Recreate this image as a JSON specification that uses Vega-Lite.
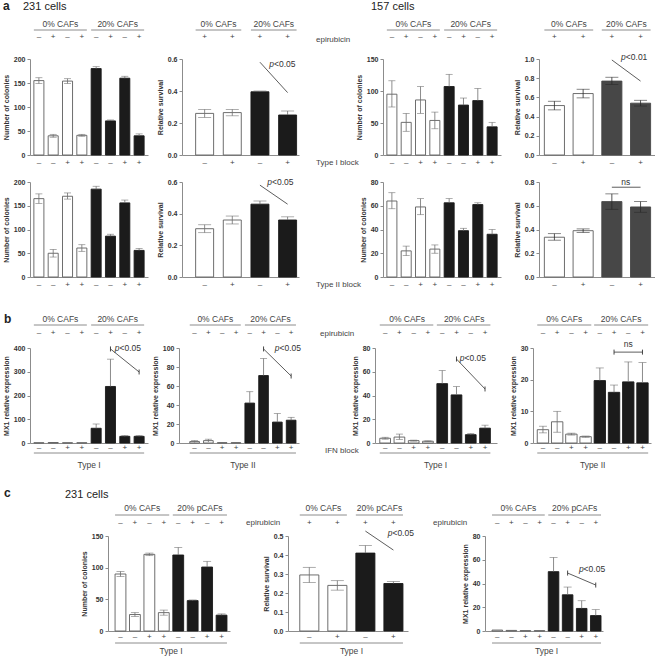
{
"$schema":"https://vega.github.io/schema/vega-lite/v6.json",
"padding":{"left":2,"top":0,"right":0,"bottom":0},
"config":{
"view":{"stroke":null},
"font":"Liberation Sans",
"axis":{"labelFont":"Liberation Sans","titleFont":"Liberation Sans","grid":false,"labelOverlap":false},
"axisY":{"domainColor":"#8c8c8c","domainWidth":1,"tickColor":"#8c8c8c","tickSize":3,"tickWidth":1,"labelFontSize":7,"labelFontWeight":"bold","labelColor":"#333333","labelPadding":2,"labelOverlap":false,"labelBound":false,"labelFlush":false,"titleFontSize":7,"titleFontWeight":"bold","titleColor":"#333333","titlePadding":4},
"axisX":{"domainColor":"#8c8c8c","domainWidth":1,"labels":false,"ticks":false},
"text":{"font":"Liberation Sans","fontSize":8,"color":"#444444","baseline":"middle"},
"tick":{"color":"#6e6e6e","thickness":0.8},
"rule":{"color":"#6e6e6e","strokeWidth":0.8}
},
"spacing":24,
"vconcat":[
{"spacing":11,"vconcat":[
{"spacing":17,"hconcat":[
{"spacing":8,"hconcat":[
{"width":118,"height":96,"data":{"values":[
{"i":"1","t":"–","b":"–","g":"w","v":155,"lo":149,"hi":161},
{"i":"2","t":"+","b":"–","g":"w","v":40,"lo":37,"hi":43},
{"i":"3","t":"–","b":"+","g":"w","v":154,"lo":149,"hi":159},
{"i":"4","t":"+","b":"+","g":"w","v":41,"lo":39,"hi":43},
{"i":"5","t":"–","b":"–","g":"k","v":180,"lo":176,"hi":184},
{"i":"6","t":"+","b":"–","g":"k","v":71,"lo":69,"hi":73},
{"i":"7","t":"–","b":"+","g":"k","v":160,"lo":156,"hi":164},
{"i":"8","t":"+","b":"+","g":"k","v":40,"lo":36,"hi":44}]},
"encoding":{"x":{"field":"i","type":"nominal","title":null,"scale":{"paddingInner":0.3,"paddingOuter":0.27}}},
"layer":[
{"mark":{"type":"bar","strokeWidth":0.9},"encoding":{"y":{"field":"v","type":"quantitative","title":"Number of colonies","scale":{"domain":[0,200],"nice":false},"axis":{"values":[0,50,100,150,200],"labelOverlap":false,"tickCount":20}},"fill":{"field":"g","type":"nominal","scale":{"domain":["w","k","d"],"range":["#ffffff","#1b1b1b","#474747"]},"legend":null},"stroke":{"field":"g","type":"nominal","scale":{"domain":["w","k","d"],"range":["#5e5e5e","#1b1b1b","#474747"]},"legend":null}}},
{"transform":[{"filter":"datum.g=='k'"}],"mark":"rule","encoding":{"y":{"field":"v","type":"quantitative","title":"Number of colonies"},"y2":{"field":"hi"}}},
{"transform":[{"filter":"datum.g=='k'"}],"mark":{"type":"tick","size":7},"encoding":{"y":{"field":"hi","type":"quantitative","title":"Number of colonies"}}},
{"transform":[{"filter":"datum.g!='k'"}],"mark":"rule","encoding":{"y":{"field":"lo","type":"quantitative","title":"Number of colonies"},"y2":{"field":"hi"}}},
{"transform":[{"filter":"datum.g!='k'"}],"mark":{"type":"tick","size":7},"encoding":{"y":{"field":"lo","type":"quantitative","title":"Number of colonies"}}},
{"transform":[{"filter":"datum.g!='k'"}],"mark":{"type":"tick","size":7},"encoding":{"y":{"field":"hi","type":"quantitative","title":"Number of colonies"}}},
{"mark":"text","encoding":{"y":{"value":-22},"text":{"field":"t"}}},
{"mark":"text","encoding":{"y":{"value":104},"text":{"field":"b"}}},
{"data":{"values":[{"a":"1","z":"4","m":"2","s":"0% CAFs"},{"a":"5","z":"8","m":"6","s":"20% CAFs"}]},"layer":[
{"mark":"rule","encoding":{"x":{"field":"a","type":"nominal","bandPosition":0,"title":null},"x2":{"field":"z","bandPosition":1},"y":{"value":-29}}},
{"mark":{"type":"text","fontSize":8.5},"encoding":{"x":{"field":"m","type":"nominal","bandPosition":1.22,"title":null},"y":{"value":-35},"text":{"field":"s"}}}]},
{"data":{"values":[{"s":"a"}]},"mark":{"type":"text","align":"left","fontSize":12,"fontWeight":"bold","color":"#222222"},"encoding":{"x":{"value":-27},"y":{"value":-53},"text":{"field":"s"}}},
{"data":{"values":[{"s":"231 cells"}]},"mark":{"type":"text","align":"left","fontSize":11,"color":"#222222"},"encoding":{"x":{"value":-7},"y":{"value":-52},"text":{"field":"s"}}}
]},
{"width":117,"height":96,"data":{"values":[
{"i":"1","t":"+","b":"–","g":"w","v":0.26,"lo":0.235,"hi":0.285},
{"i":"2","t":"+","b":"+","g":"w","v":0.265,"lo":0.245,"hi":0.285},
{"i":"3","t":"+","b":"–","g":"k","v":0.395,"lo":0.39,"hi":0.4},
{"i":"4","t":"+","b":"+","g":"k","v":0.25,"lo":0.225,"hi":0.275}]},
"encoding":{"x":{"field":"i","type":"nominal","title":null,"scale":{"paddingInner":0.35,"paddingOuter":0.29,"align":0.85}}},
"layer":[
{"mark":{"type":"bar","strokeWidth":0.9},"encoding":{"y":{"field":"v","type":"quantitative","title":"Relative survival","scale":{"domain":[0,0.6],"nice":false},"axis":{"values":[0,0.2,0.4,0.6],"format":".1f","labelOverlap":false,"tickCount":20}},"fill":{"field":"g","type":"nominal","scale":{"domain":["w","k","d"],"range":["#ffffff","#1b1b1b","#474747"]},"legend":null},"stroke":{"field":"g","type":"nominal","scale":{"domain":["w","k","d"],"range":["#5e5e5e","#1b1b1b","#474747"]},"legend":null}}},
{"transform":[{"filter":"datum.g=='k'"}],"mark":"rule","encoding":{"y":{"field":"v","type":"quantitative","title":"Relative survival"},"y2":{"field":"hi"}}},
{"transform":[{"filter":"datum.g=='k'"}],"mark":{"type":"tick","size":13},"encoding":{"y":{"field":"hi","type":"quantitative","title":"Relative survival"}}},
{"transform":[{"filter":"datum.g!='k'"}],"mark":"rule","encoding":{"y":{"field":"lo","type":"quantitative","title":"Relative survival"},"y2":{"field":"hi"}}},
{"transform":[{"filter":"datum.g!='k'"}],"mark":{"type":"tick","size":13},"encoding":{"y":{"field":"lo","type":"quantitative","title":"Relative survival"}}},
{"transform":[{"filter":"datum.g!='k'"}],"mark":{"type":"tick","size":13},"encoding":{"y":{"field":"hi","type":"quantitative","title":"Relative survival"}}},
{"mark":"text","encoding":{"y":{"value":-22},"text":{"field":"t"}}},
{"mark":"text","encoding":{"y":{"value":104},"text":{"field":"b"}}},
{"data":{"values":[{"a":"1","z":"2","m":"1","s":"0% CAFs"},{"a":"3","z":"4","m":"3","s":"20% CAFs"}]},"layer":[
{"mark":"rule","encoding":{"x":{"field":"a","type":"nominal","bandPosition":0,"title":null},"x2":{"field":"z","bandPosition":1},"y":{"value":-29}}},
{"mark":{"type":"text","fontSize":8.5},"encoding":{"x":{"field":"m","type":"nominal","bandPosition":1.27,"title":null},"y":{"value":-35},"text":{"field":"s"}}}]},
{"data":{"values":[{"x1":"3","y1":0.58,"x2":"4","y2":0.39,"tx":"3","ty":0.57}]},"layer":[
{"mark":{"type":"rule","color":"#333333","strokeWidth":0.8},"encoding":{"x":{"field":"x1","type":"nominal","title":null},"x2":{"field":"x2"},"y":{"field":"y1","type":"quantitative","title":"Relative survival"},"y2":{"field":"y2"}}},
{"mark":{"type":"text","text":"p","fontStyle":"italic","align":"right","dx":14,"fontSize":8.5,"color":"#333333"},"encoding":{"x":{"field":"tx","type":"nominal","title":null},"y":{"field":"ty","type":"quantitative","title":"Relative survival"}}},
{"mark":{"type":"text","text":"<0.05","align":"left","dx":14,"fontSize":8.5,"color":"#333333"},"encoding":{"x":{"field":"tx","type":"nominal","title":null},"y":{"field":"ty","type":"quantitative","title":"Relative survival"}}}]}
]}
]},
{"spacing":12,"hconcat":[
{"width":118,"height":96,"data":{"values":[
{"i":"1","t":"–","b":"–","g":"w","v":95,"lo":75,"hi":116},
{"i":"2","t":"+","b":"–","g":"w","v":51,"lo":37,"hi":65},
{"i":"3","t":"–","b":"+","g":"w","v":86,"lo":65,"hi":107},
{"i":"4","t":"+","b":"+","g":"w","v":54,"lo":41,"hi":67},
{"i":"5","t":"–","b":"–","g":"k","v":107,"lo":88,"hi":126},
{"i":"6","t":"+","b":"–","g":"k","v":78,"lo":68,"hi":89},
{"i":"7","t":"–","b":"+","g":"k","v":85,"lo":66,"hi":104},
{"i":"8","t":"+","b":"+","g":"k","v":44,"lo":37,"hi":51}]},
"encoding":{"x":{"field":"i","type":"nominal","title":null,"scale":{"paddingInner":0.3,"paddingOuter":0.27}}},
"layer":[
{"mark":{"type":"bar","strokeWidth":0.9},"encoding":{"y":{"field":"v","type":"quantitative","title":"Number of colonies","scale":{"domain":[0,150],"nice":false},"axis":{"values":[0,50,100,150],"labelOverlap":false,"tickCount":20}},"fill":{"field":"g","type":"nominal","scale":{"domain":["w","k","d"],"range":["#ffffff","#1b1b1b","#474747"]},"legend":null},"stroke":{"field":"g","type":"nominal","scale":{"domain":["w","k","d"],"range":["#5e5e5e","#1b1b1b","#474747"]},"legend":null}}},
{"transform":[{"filter":"datum.g=='k'"}],"mark":"rule","encoding":{"y":{"field":"v","type":"quantitative","title":"Number of colonies"},"y2":{"field":"hi"}}},
{"transform":[{"filter":"datum.g=='k'"}],"mark":{"type":"tick","size":7},"encoding":{"y":{"field":"hi","type":"quantitative","title":"Number of colonies"}}},
{"transform":[{"filter":"datum.g!='k'"}],"mark":"rule","encoding":{"y":{"field":"lo","type":"quantitative","title":"Number of colonies"},"y2":{"field":"hi"}}},
{"transform":[{"filter":"datum.g!='k'"}],"mark":{"type":"tick","size":7},"encoding":{"y":{"field":"lo","type":"quantitative","title":"Number of colonies"}}},
{"transform":[{"filter":"datum.g!='k'"}],"mark":{"type":"tick","size":7},"encoding":{"y":{"field":"hi","type":"quantitative","title":"Number of colonies"}}},
{"mark":"text","encoding":{"y":{"value":-22},"text":{"field":"t"}}},
{"mark":"text","encoding":{"y":{"value":104},"text":{"field":"b"}}},
{"data":{"values":[{"a":"1","z":"4","m":"2","s":"0% CAFs"},{"a":"5","z":"8","m":"6","s":"20% CAFs"}]},"layer":[
{"mark":"rule","encoding":{"x":{"field":"a","type":"nominal","bandPosition":0,"title":null},"x2":{"field":"z","bandPosition":1},"y":{"value":-29}}},
{"mark":{"type":"text","fontSize":8.5},"encoding":{"x":{"field":"m","type":"nominal","bandPosition":1.22,"title":null},"y":{"value":-35},"text":{"field":"s"}}}]},
{"data":{"values":[{"s":"157 cells"}]},"mark":{"type":"text","align":"left","fontSize":11,"color":"#222222"},"encoding":{"x":{"value":-12},"y":{"value":-52},"text":{"field":"s"}}},
{"data":{"values":[{"s":"epirubicin"}]},"mark":{"type":"text","align":"left","fontSize":8},"encoding":{"x":{"value":-67},"y":{"value":-19},"text":{"field":"s"}}},
{"data":{"values":[{"s":"Type I block"}]},"mark":{"type":"text","align":"left","fontSize":8},"encoding":{"x":{"value":-67},"y":{"value":104},"text":{"field":"s"}}}
]},
{"width":116,"height":96,"data":{"values":[
{"i":"1","t":"+","b":"–","g":"w","v":0.515,"lo":0.47,"hi":0.56},
{"i":"2","t":"+","b":"+","g":"w","v":0.64,"lo":0.595,"hi":0.685},
{"i":"3","t":"+","b":"–","g":"d","v":0.77,"lo":0.735,"hi":0.81},
{"i":"4","t":"+","b":"+","g":"d","v":0.54,"lo":0.51,"hi":0.57}]},
"encoding":{"x":{"field":"i","type":"nominal","title":null,"scale":{"paddingInner":0.3,"paddingOuter":0.17,"align":0.55}}},
"layer":[
{"mark":{"type":"bar","strokeWidth":0.9},"encoding":{"y":{"field":"v","type":"quantitative","title":"Relative survival","scale":{"domain":[0,1],"nice":false},"axis":{"values":[0,0.2,0.4,0.6,0.8,1],"format":".1f","labelOverlap":false,"tickCount":20}},"fill":{"field":"g","type":"nominal","scale":{"domain":["w","k","d"],"range":["#ffffff","#1b1b1b","#474747"]},"legend":null},"stroke":{"field":"g","type":"nominal","scale":{"domain":["w","k","d"],"range":["#5e5e5e","#1b1b1b","#474747"]},"legend":null}}},
{"mark":{"type":"rule","color":"#2a2a2a"},"encoding":{"y":{"field":"lo","type":"quantitative","title":"Relative survival"},"y2":{"field":"hi"}}},
{"mark":{"type":"tick","size":13,"color":"#2a2a2a"},"encoding":{"y":{"field":"lo","type":"quantitative","title":"Relative survival"}}},
{"mark":{"type":"tick","size":13,"color":"#2a2a2a"},"encoding":{"y":{"field":"hi","type":"quantitative","title":"Relative survival"}}},
{"mark":"text","encoding":{"y":{"value":-22},"text":{"field":"t"}}},
{"mark":"text","encoding":{"y":{"value":104},"text":{"field":"b"}}},
{"data":{"values":[{"a":"1","z":"2","m":"1","s":"0% CAFs"},{"a":"3","z":"4","m":"3","s":"20% CAFs"}]},"layer":[
{"mark":"rule","encoding":{"x":{"field":"a","type":"nominal","bandPosition":0,"title":null},"x2":{"field":"z","bandPosition":1},"y":{"value":-29}}},
{"mark":{"type":"text","fontSize":8.5},"encoding":{"x":{"field":"m","type":"nominal","bandPosition":1.22,"title":null},"y":{"value":-35},"text":{"field":"s"}}}]},
{"data":{"values":[{"x1":"3","y1":0.99,"x2":"4","y2":0.77,"tx":"3","ty":1.02}]},"layer":[
{"mark":{"type":"rule","color":"#333333","strokeWidth":0.8},"encoding":{"x":{"field":"x1","type":"nominal","title":null},"x2":{"field":"x2"},"y":{"field":"y1","type":"quantitative","title":"Relative survival"},"y2":{"field":"y2"}}},
{"mark":{"type":"text","text":"p","fontStyle":"italic","align":"right","dx":14,"fontSize":8.5,"color":"#333333"},"encoding":{"x":{"field":"tx","type":"nominal","title":null},"y":{"field":"ty","type":"quantitative","title":"Relative survival"}}},
{"mark":{"type":"text","text":"<0.01","align":"left","dx":14,"fontSize":8.5,"color":"#333333"},"encoding":{"x":{"field":"tx","type":"nominal","title":null},"y":{"field":"ty","type":"quantitative","title":"Relative survival"}}}]}
]}
]}
]},
{"spacing":17,"hconcat":[
{"spacing":8,"hconcat":[
{"width":118,"height":95,"data":{"values":[
{"i":"1","b":"–","g":"w","v":165,"lo":155,"hi":175},
{"i":"2","b":"–","g":"w","v":50,"lo":42,"hi":58},
{"i":"3","b":"+","g":"w","v":170,"lo":164,"hi":177},
{"i":"4","b":"+","g":"w","v":61,"lo":54,"hi":68},
{"i":"5","b":"–","g":"k","v":185,"lo":179,"hi":191},
{"i":"6","b":"–","g":"k","v":86,"lo":82,"hi":90},
{"i":"7","b":"+","g":"k","v":156,"lo":150,"hi":162},
{"i":"8","b":"+","g":"k","v":56,"lo":52,"hi":60}]},
"encoding":{"x":{"field":"i","type":"nominal","title":null,"scale":{"paddingInner":0.3,"paddingOuter":0.27}}},
"layer":[
{"mark":{"type":"bar","strokeWidth":0.9},"encoding":{"y":{"field":"v","type":"quantitative","title":"Number of colonies","scale":{"domain":[0,200],"nice":false},"axis":{"values":[0,50,100,150,200],"labelOverlap":false,"tickCount":20}},"fill":{"field":"g","type":"nominal","scale":{"domain":["w","k","d"],"range":["#ffffff","#1b1b1b","#474747"]},"legend":null},"stroke":{"field":"g","type":"nominal","scale":{"domain":["w","k","d"],"range":["#5e5e5e","#1b1b1b","#474747"]},"legend":null}}},
{"transform":[{"filter":"datum.g=='k'"}],"mark":"rule","encoding":{"y":{"field":"v","type":"quantitative","title":"Number of colonies"},"y2":{"field":"hi"}}},
{"transform":[{"filter":"datum.g=='k'"}],"mark":{"type":"tick","size":7},"encoding":{"y":{"field":"hi","type":"quantitative","title":"Number of colonies"}}},
{"transform":[{"filter":"datum.g!='k'"}],"mark":"rule","encoding":{"y":{"field":"lo","type":"quantitative","title":"Number of colonies"},"y2":{"field":"hi"}}},
{"transform":[{"filter":"datum.g!='k'"}],"mark":{"type":"tick","size":7},"encoding":{"y":{"field":"lo","type":"quantitative","title":"Number of colonies"}}},
{"transform":[{"filter":"datum.g!='k'"}],"mark":{"type":"tick","size":7},"encoding":{"y":{"field":"hi","type":"quantitative","title":"Number of colonies"}}},
{"mark":"text","encoding":{"y":{"value":103},"text":{"field":"b"}}}
]},
{"width":117,"height":95,"data":{"values":[
{"i":"1","b":"–","g":"w","v":0.305,"lo":0.28,"hi":0.33},
{"i":"2","b":"+","g":"w","v":0.36,"lo":0.335,"hi":0.385},
{"i":"3","b":"–","g":"k","v":0.46,"lo":0.445,"hi":0.48},
{"i":"4","b":"+","g":"k","v":0.36,"lo":0.345,"hi":0.38}]},
"encoding":{"x":{"field":"i","type":"nominal","title":null,"scale":{"paddingInner":0.35,"paddingOuter":0.29,"align":0.85}}},
"layer":[
{"mark":{"type":"bar","strokeWidth":0.9},"encoding":{"y":{"field":"v","type":"quantitative","title":"Relative survival","scale":{"domain":[0,0.6],"nice":false},"axis":{"values":[0,0.2,0.4,0.6],"format":".1f","labelOverlap":false,"tickCount":20}},"fill":{"field":"g","type":"nominal","scale":{"domain":["w","k","d"],"range":["#ffffff","#1b1b1b","#474747"]},"legend":null},"stroke":{"field":"g","type":"nominal","scale":{"domain":["w","k","d"],"range":["#5e5e5e","#1b1b1b","#474747"]},"legend":null}}},
{"transform":[{"filter":"datum.g=='k'"}],"mark":"rule","encoding":{"y":{"field":"v","type":"quantitative","title":"Relative survival"},"y2":{"field":"hi"}}},
{"transform":[{"filter":"datum.g=='k'"}],"mark":{"type":"tick","size":13},"encoding":{"y":{"field":"hi","type":"quantitative","title":"Relative survival"}}},
{"transform":[{"filter":"datum.g!='k'"}],"mark":"rule","encoding":{"y":{"field":"lo","type":"quantitative","title":"Relative survival"},"y2":{"field":"hi"}}},
{"transform":[{"filter":"datum.g!='k'"}],"mark":{"type":"tick","size":13},"encoding":{"y":{"field":"lo","type":"quantitative","title":"Relative survival"}}},
{"transform":[{"filter":"datum.g!='k'"}],"mark":{"type":"tick","size":13},"encoding":{"y":{"field":"hi","type":"quantitative","title":"Relative survival"}}},
{"mark":"text","encoding":{"y":{"value":103},"text":{"field":"b"}}},
{"data":{"values":[{"x1":"3","y1":0.58,"x2":"4","y2":0.46,"tx":"3","ty":0.6}]},"layer":[
{"mark":{"type":"rule","color":"#333333","strokeWidth":0.8},"encoding":{"x":{"field":"x1","type":"nominal","title":null},"x2":{"field":"x2"},"y":{"field":"y1","type":"quantitative","title":"Relative survival"},"y2":{"field":"y2"}}},
{"mark":{"type":"text","text":"p","fontStyle":"italic","align":"right","dx":12,"fontSize":8.5,"color":"#333333"},"encoding":{"x":{"field":"tx","type":"nominal","title":null},"y":{"field":"ty","type":"quantitative","title":"Relative survival"}}},
{"mark":{"type":"text","text":"<0.05","align":"left","dx":12,"fontSize":8.5,"color":"#333333"},"encoding":{"x":{"field":"tx","type":"nominal","title":null},"y":{"field":"ty","type":"quantitative","title":"Relative survival"}}}]}
]}
]},
{"spacing":12,"hconcat":[
{"width":118,"height":95,"data":{"values":[
{"i":"1","b":"–","g":"w","v":64,"lo":57.5,"hi":71},
{"i":"2","b":"–","g":"w","v":22,"lo":18,"hi":26},
{"i":"3","b":"+","g":"w","v":59,"lo":52.5,"hi":66},
{"i":"4","b":"+","g":"w","v":23.5,"lo":20,"hi":27},
{"i":"5","b":"–","g":"k","v":62.5,"lo":59,"hi":66},
{"i":"6","b":"–","g":"k","v":39,"lo":37,"hi":41},
{"i":"7","b":"+","g":"k","v":61,"lo":59.5,"hi":62.5},
{"i":"8","b":"+","g":"k","v":36,"lo":32,"hi":40}]},
"encoding":{"x":{"field":"i","type":"nominal","title":null,"scale":{"paddingInner":0.3,"paddingOuter":0.27}}},
"layer":[
{"mark":{"type":"bar","strokeWidth":0.9},"encoding":{"y":{"field":"v","type":"quantitative","title":"Number of colonies","scale":{"domain":[0,80],"nice":false},"axis":{"values":[0,20,40,60,80],"labelOverlap":false,"tickCount":20}},"fill":{"field":"g","type":"nominal","scale":{"domain":["w","k","d"],"range":["#ffffff","#1b1b1b","#474747"]},"legend":null},"stroke":{"field":"g","type":"nominal","scale":{"domain":["w","k","d"],"range":["#5e5e5e","#1b1b1b","#474747"]},"legend":null}}},
{"transform":[{"filter":"datum.g=='k'"}],"mark":"rule","encoding":{"y":{"field":"v","type":"quantitative","title":"Number of colonies"},"y2":{"field":"hi"}}},
{"transform":[{"filter":"datum.g=='k'"}],"mark":{"type":"tick","size":7},"encoding":{"y":{"field":"hi","type":"quantitative","title":"Number of colonies"}}},
{"transform":[{"filter":"datum.g!='k'"}],"mark":"rule","encoding":{"y":{"field":"lo","type":"quantitative","title":"Number of colonies"},"y2":{"field":"hi"}}},
{"transform":[{"filter":"datum.g!='k'"}],"mark":{"type":"tick","size":7},"encoding":{"y":{"field":"lo","type":"quantitative","title":"Number of colonies"}}},
{"transform":[{"filter":"datum.g!='k'"}],"mark":{"type":"tick","size":7},"encoding":{"y":{"field":"hi","type":"quantitative","title":"Number of colonies"}}},
{"mark":"text","encoding":{"y":{"value":103},"text":{"field":"b"}}},
{"data":{"values":[{"s":"Type II block"}]},"mark":{"type":"text","align":"left","fontSize":8},"encoding":{"x":{"value":-67},"y":{"value":103},"text":{"field":"s"}}}
]},
{"width":116,"height":95,"data":{"values":[
{"i":"1","b":"–","g":"w","v":0.335,"lo":0.31,"hi":0.365},
{"i":"2","b":"+","g":"w","v":0.39,"lo":0.375,"hi":0.405},
{"i":"3","b":"–","g":"d","v":0.635,"lo":0.57,"hi":0.7},
{"i":"4","b":"+","g":"d","v":0.59,"lo":0.545,"hi":0.635}]},
"encoding":{"x":{"field":"i","type":"nominal","title":null,"scale":{"paddingInner":0.3,"paddingOuter":0.17,"align":0.55}}},
"layer":[
{"mark":{"type":"bar","strokeWidth":0.9},"encoding":{"y":{"field":"v","type":"quantitative","title":"Relative survival","scale":{"domain":[0,0.8],"nice":false},"axis":{"values":[0,0.2,0.4,0.6,0.8],"format":".1f","labelOverlap":false,"tickCount":20}},"fill":{"field":"g","type":"nominal","scale":{"domain":["w","k","d"],"range":["#ffffff","#1b1b1b","#474747"]},"legend":null},"stroke":{"field":"g","type":"nominal","scale":{"domain":["w","k","d"],"range":["#5e5e5e","#1b1b1b","#474747"]},"legend":null}}},
{"mark":{"type":"rule","color":"#2a2a2a"},"encoding":{"y":{"field":"lo","type":"quantitative","title":"Relative survival"},"y2":{"field":"hi"}}},
{"mark":{"type":"tick","size":13,"color":"#2a2a2a"},"encoding":{"y":{"field":"lo","type":"quantitative","title":"Relative survival"}}},
{"mark":{"type":"tick","size":13,"color":"#2a2a2a"},"encoding":{"y":{"field":"hi","type":"quantitative","title":"Relative survival"}}},
{"mark":"text","encoding":{"y":{"value":103},"text":{"field":"b"}}},
{"data":{"values":[{"x1":"3","y1":0.756,"x2":"4","y2":0.756,"tx":"3","ty":0.8}]},"layer":[
{"mark":{"type":"rule","color":"#333333","strokeWidth":0.8},"encoding":{"x":{"field":"x1","type":"nominal","title":null},"x2":{"field":"x2"},"y":{"field":"y1","type":"quantitative","title":"Relative survival"},"y2":{"field":"y2"}}},
{"mark":{"type":"text","text":"ns","align":"center","dx":14,"fontSize":8.5,"color":"#333333"},"encoding":{"x":{"field":"tx","type":"nominal","title":null},"y":{"field":"ty","type":"quantitative","title":"Relative survival"}}}]}
]}
]}
]}
]},
{"spacing":17,"vconcat":[
{"spacing":18,"hconcat":[
{"spacing":3,"hconcat":[
{"width":118,"height":95,"data":{"values":[
{"i":"1","t":"–","b":"–","g":"w","v":1,"lo":0.5,"hi":1.5},
{"i":"2","t":"+","b":"–","g":"w","v":2,"lo":1,"hi":3},
{"i":"3","t":"–","b":"+","g":"w","v":1,"lo":0.5,"hi":1.5},
{"i":"4","t":"+","b":"+","g":"w","v":1,"lo":0.5,"hi":1.5},
{"i":"5","t":"–","b":"–","g":"k","v":62,"lo":44,"hi":80},
{"i":"6","t":"+","b":"–","g":"k","v":238,"lo":123,"hi":353},
{"i":"7","t":"–","b":"+","g":"k","v":28,"lo":24,"hi":32},
{"i":"8","t":"+","b":"+","g":"k","v":28,"lo":24,"hi":32}]},
"encoding":{"x":{"field":"i","type":"nominal","title":null,"scale":{"paddingInner":0.3,"paddingOuter":0.27}}},
"layer":[
{"mark":{"type":"bar","strokeWidth":0.9},"encoding":{"y":{"field":"v","type":"quantitative","title":"MX1 relative expression","scale":{"domain":[0,400],"nice":false},"axis":{"values":[0,100,200,300,400],"labelOverlap":false,"tickCount":20}},"fill":{"field":"g","type":"nominal","scale":{"domain":["w","k","d"],"range":["#ffffff","#1b1b1b","#474747"]},"legend":null},"stroke":{"field":"g","type":"nominal","scale":{"domain":["w","k","d"],"range":["#5e5e5e","#1b1b1b","#474747"]},"legend":null}}},
{"transform":[{"filter":"datum.g=='k'"}],"mark":"rule","encoding":{"y":{"field":"v","type":"quantitative","title":"MX1 relative expression"},"y2":{"field":"hi"}}},
{"transform":[{"filter":"datum.g=='k'"}],"mark":{"type":"tick","size":7},"encoding":{"y":{"field":"hi","type":"quantitative","title":"MX1 relative expression"}}},
{"mark":"text","encoding":{"y":{"value":-15},"text":{"field":"t"}}},
{"mark":"text","encoding":{"y":{"value":99.5},"text":{"field":"b"}}},
{"data":{"values":[{"a":"1","z":"4","m":"2","s":"0% CAFs"},{"a":"5","z":"8","m":"6","s":"20% CAFs"}]},"layer":[
{"mark":"rule","encoding":{"x":{"field":"a","type":"nominal","bandPosition":0,"title":null},"x2":{"field":"z","bandPosition":1},"y":{"value":-23}}},
{"mark":{"type":"text","fontSize":8.5},"encoding":{"x":{"field":"m","type":"nominal","bandPosition":1.22,"title":null},"y":{"value":-29},"text":{"field":"s"}}}]},
{"data":{"values":[{"a":"1","z":"8","m":"4","s":"Type I"}]},"layer":[
{"mark":"rule","encoding":{"x":{"field":"a","type":"nominal","bandPosition":0,"title":null},"x2":{"field":"z","bandPosition":1},"y":{"value":105}}},
{"mark":{"type":"text","fontSize":8.5},"encoding":{"x":{"field":"m","type":"nominal","bandPosition":1.22,"title":null},"y":{"value":117},"text":{"field":"s"}}}]},
{"data":{"values":[{"x1":"6","y1":396,"x2":"8","y2":299,"tx":"6","ty":400}]},"layer":[
{"mark":{"type":"rule","color":"#333333","strokeWidth":0.8},"encoding":{"x":{"field":"x1","type":"nominal","title":null},"x2":{"field":"x2"},"y":{"field":"y1","type":"quantitative","title":"MX1 relative expression"},"y2":{"field":"y2"}}},
{"mark":{"type":"point","shape":"M0,-1L0,1","size":25,"filled":false,"color":"#333333","strokeWidth":0.9,"opacity":1},"encoding":{"x":{"field":"x1","type":"nominal","title":null},"y":{"field":"y1","type":"quantitative","title":"MX1 relative expression"}}},
{"mark":{"type":"point","shape":"M0,-1L0,1","size":25,"filled":false,"color":"#333333","strokeWidth":0.9,"opacity":1},"encoding":{"x":{"field":"x2","type":"nominal","title":null},"y":{"field":"y2","type":"quantitative","title":"MX1 relative expression"}}},
{"mark":{"type":"text","text":"p","fontStyle":"italic","align":"right","dx":9,"fontSize":8.5,"color":"#333333"},"encoding":{"x":{"field":"tx","type":"nominal","title":null},"y":{"field":"ty","type":"quantitative","title":"MX1 relative expression"}}},
{"mark":{"type":"text","text":"<0.05","align":"left","dx":9,"fontSize":8.5,"color":"#333333"},"encoding":{"x":{"field":"tx","type":"nominal","title":null},"y":{"field":"ty","type":"quantitative","title":"MX1 relative expression"}}}]},
{"data":{"values":[{"s":"b"}]},"mark":{"type":"text","align":"left","fontSize":12,"fontWeight":"bold","color":"#222222"},"encoding":{"x":{"value":-26},"y":{"value":-29},"text":{"field":"s"}}}
]},
{"width":120,"height":95,"data":{"values":[
{"i":"1","t":"–","b":"–","g":"w","v":1.5,"lo":0.5,"hi":2.5},
{"i":"2","t":"+","b":"–","g":"w","v":2.5,"lo":1,"hi":4},
{"i":"3","t":"–","b":"+","g":"w","v":0.3,"lo":0,"hi":0.6},
{"i":"4","t":"+","b":"+","g":"w","v":0.3,"lo":0,"hi":0.6},
{"i":"5","t":"–","b":"–","g":"k","v":42,"lo":30,"hi":54},
{"i":"6","t":"+","b":"–","g":"k","v":71,"lo":53,"hi":89},
{"i":"7","t":"–","b":"+","g":"k","v":22,"lo":13,"hi":31},
{"i":"8","t":"+","b":"+","g":"k","v":24,"lo":21,"hi":27}]},
"encoding":{"x":{"field":"i","type":"nominal","title":null,"scale":{"paddingInner":0.3,"paddingOuter":0.5,"align":0.78}}},
"layer":[
{"mark":{"type":"bar","strokeWidth":0.9},"encoding":{"y":{"field":"v","type":"quantitative","title":"MX1 relative expression","scale":{"domain":[0,100],"nice":false},"axis":{"values":[0,20,40,60,80,100],"labelOverlap":false,"tickCount":20}},"fill":{"field":"g","type":"nominal","scale":{"domain":["w","k","d"],"range":["#ffffff","#1b1b1b","#474747"]},"legend":null},"stroke":{"field":"g","type":"nominal","scale":{"domain":["w","k","d"],"range":["#5e5e5e","#1b1b1b","#474747"]},"legend":null}}},
{"transform":[{"filter":"datum.g=='k'"}],"mark":"rule","encoding":{"y":{"field":"v","type":"quantitative","title":"MX1 relative expression"},"y2":{"field":"hi"}}},
{"transform":[{"filter":"datum.g=='k'"}],"mark":{"type":"tick","size":7},"encoding":{"y":{"field":"hi","type":"quantitative","title":"MX1 relative expression"}}},
{"transform":[{"filter":"datum.g!='k'"}],"mark":"rule","encoding":{"y":{"field":"lo","type":"quantitative","title":"MX1 relative expression"},"y2":{"field":"hi"}}},
{"transform":[{"filter":"datum.g!='k'"}],"mark":{"type":"tick","size":7},"encoding":{"y":{"field":"hi","type":"quantitative","title":"MX1 relative expression"}}},
{"mark":"text","encoding":{"y":{"value":-15},"text":{"field":"t"}}},
{"mark":"text","encoding":{"y":{"value":99.5},"text":{"field":"b"}}},
{"data":{"values":[{"a":"1","z":"4","m":"2","s":"0% CAFs"},{"a":"5","z":"8","m":"6","s":"20% CAFs"}]},"layer":[
{"mark":"rule","encoding":{"x":{"field":"a","type":"nominal","bandPosition":0,"title":null},"x2":{"field":"z","bandPosition":1},"y":{"value":-23}}},
{"mark":{"type":"text","fontSize":8.5},"encoding":{"x":{"field":"m","type":"nominal","bandPosition":1.22,"title":null},"y":{"value":-29},"text":{"field":"s"}}}]},
{"data":{"values":[{"a":"1","z":"8","m":"4","s":"Type II"}]},"layer":[
{"mark":"rule","encoding":{"x":{"field":"a","type":"nominal","bandPosition":0,"title":null},"x2":{"field":"z","bandPosition":1},"y":{"value":105}}},
{"mark":{"type":"text","fontSize":8.5},"encoding":{"x":{"field":"m","type":"nominal","bandPosition":1.22,"title":null},"y":{"value":117},"text":{"field":"s"}}}]},
{"data":{"values":[{"x1":"6","y1":99,"x2":"8","y2":70.5,"tx":"6","ty":100}]},"layer":[
{"mark":{"type":"rule","color":"#333333","strokeWidth":0.8},"encoding":{"x":{"field":"x1","type":"nominal","title":null},"x2":{"field":"x2"},"y":{"field":"y1","type":"quantitative","title":"MX1 relative expression"},"y2":{"field":"y2"}}},
{"mark":{"type":"point","shape":"M0,-1L0,1","size":25,"filled":false,"color":"#333333","strokeWidth":0.9,"opacity":1},"encoding":{"x":{"field":"x1","type":"nominal","title":null},"y":{"field":"y1","type":"quantitative","title":"MX1 relative expression"}}},
{"mark":{"type":"point","shape":"M0,-1L0,1","size":25,"filled":false,"color":"#333333","strokeWidth":0.9,"opacity":1},"encoding":{"x":{"field":"x2","type":"nominal","title":null},"y":{"field":"y2","type":"quantitative","title":"MX1 relative expression"}}},
{"mark":{"type":"text","text":"p","fontStyle":"italic","align":"right","dx":16,"fontSize":8.5,"color":"#333333"},"encoding":{"x":{"field":"tx","type":"nominal","title":null},"y":{"field":"ty","type":"quantitative","title":"MX1 relative expression"}}},
{"mark":{"type":"text","text":"<0.05","align":"left","dx":16,"fontSize":8.5,"color":"#333333"},"encoding":{"x":{"field":"tx","type":"nominal","title":null},"y":{"field":"ty","type":"quantitative","title":"MX1 relative expression"}}}]}
]}
]},
{"spacing":12,"hconcat":[
{"width":122,"height":95,"data":{"values":[
{"i":"1","t":"–","b":"–","g":"w","v":4,"lo":3.2,"hi":4.8},
{"i":"2","t":"+","b":"–","g":"w","v":5,"lo":3,"hi":7.5},
{"i":"3","t":"–","b":"+","g":"w","v":2,"lo":1.6,"hi":2.4},
{"i":"4","t":"+","b":"+","g":"w","v":1.5,"lo":1.2,"hi":1.8},
{"i":"5","t":"–","b":"–","g":"k","v":50,"lo":39,"hi":61},
{"i":"6","t":"+","b":"–","g":"k","v":40.5,"lo":34,"hi":47.5},
{"i":"7","t":"–","b":"+","g":"k","v":7,"lo":6,"hi":8},
{"i":"8","t":"+","b":"+","g":"k","v":12.5,"lo":10,"hi":15}]},
"encoding":{"x":{"field":"i","type":"nominal","title":null,"scale":{"paddingInner":0.25,"paddingOuter":0.4,"align":0.42}}},
"layer":[
{"mark":{"type":"bar","strokeWidth":0.9},"encoding":{"y":{"field":"v","type":"quantitative","title":"MX1 relative expression","scale":{"domain":[0,80],"nice":false},"axis":{"values":[0,20,40,60,80],"labelOverlap":false,"tickCount":20}},"fill":{"field":"g","type":"nominal","scale":{"domain":["w","k","d"],"range":["#ffffff","#1b1b1b","#474747"]},"legend":null},"stroke":{"field":"g","type":"nominal","scale":{"domain":["w","k","d"],"range":["#5e5e5e","#1b1b1b","#474747"]},"legend":null}}},
{"transform":[{"filter":"datum.g=='k'"}],"mark":"rule","encoding":{"y":{"field":"v","type":"quantitative","title":"MX1 relative expression"},"y2":{"field":"hi"}}},
{"transform":[{"filter":"datum.g=='k'"}],"mark":{"type":"tick","size":7},"encoding":{"y":{"field":"hi","type":"quantitative","title":"MX1 relative expression"}}},
{"transform":[{"filter":"datum.g!='k'"}],"mark":"rule","encoding":{"y":{"field":"lo","type":"quantitative","title":"MX1 relative expression"},"y2":{"field":"hi"}}},
{"transform":[{"filter":"datum.g!='k'"}],"mark":{"type":"tick","size":7},"encoding":{"y":{"field":"lo","type":"quantitative","title":"MX1 relative expression"}}},
{"transform":[{"filter":"datum.g!='k'"}],"mark":{"type":"tick","size":7},"encoding":{"y":{"field":"hi","type":"quantitative","title":"MX1 relative expression"}}},
{"mark":"text","encoding":{"y":{"value":-15},"text":{"field":"t"}}},
{"mark":"text","encoding":{"y":{"value":99.5},"text":{"field":"b"}}},
{"data":{"values":[{"a":"1","z":"4","m":"2","s":"0% CAFs"},{"a":"5","z":"8","m":"6","s":"20% CAFs"}]},"layer":[
{"mark":"rule","encoding":{"x":{"field":"a","type":"nominal","bandPosition":0,"title":null},"x2":{"field":"z","bandPosition":1},"y":{"value":-23}}},
{"mark":{"type":"text","fontSize":8.5},"encoding":{"x":{"field":"m","type":"nominal","bandPosition":1.22,"title":null},"y":{"value":-29},"text":{"field":"s"}}}]},
{"data":{"values":[{"a":"1","z":"8","m":"4","s":"Type I"}]},"layer":[
{"mark":"rule","encoding":{"x":{"field":"a","type":"nominal","bandPosition":0,"title":null},"x2":{"field":"z","bandPosition":1},"y":{"value":105}}},
{"mark":{"type":"text","fontSize":8.5},"encoding":{"x":{"field":"m","type":"nominal","bandPosition":1.22,"title":null},"y":{"value":117},"text":{"field":"s"}}}]},
{"data":{"values":[{"x1":"6","y1":70.7,"x2":"8","y2":45.5,"tx":"6","ty":71.6}]},"layer":[
{"mark":{"type":"rule","color":"#333333","strokeWidth":0.8},"encoding":{"x":{"field":"x1","type":"nominal","title":null},"x2":{"field":"x2"},"y":{"field":"y1","type":"quantitative","title":"MX1 relative expression"},"y2":{"field":"y2"}}},
{"mark":{"type":"point","shape":"M0,-1L0,1","size":25,"filled":false,"color":"#333333","strokeWidth":0.9,"opacity":1},"encoding":{"x":{"field":"x1","type":"nominal","title":null},"y":{"field":"y1","type":"quantitative","title":"MX1 relative expression"}}},
{"mark":{"type":"point","shape":"M0,-1L0,1","size":25,"filled":false,"color":"#333333","strokeWidth":0.9,"opacity":1},"encoding":{"x":{"field":"x2","type":"nominal","title":null},"y":{"field":"y2","type":"quantitative","title":"MX1 relative expression"}}},
{"mark":{"type":"text","text":"p","fontStyle":"italic","align":"right","dx":8,"fontSize":8.5,"color":"#333333"},"encoding":{"x":{"field":"tx","type":"nominal","title":null},"y":{"field":"ty","type":"quantitative","title":"MX1 relative expression"}}},
{"mark":{"type":"text","text":"<0.05","align":"left","dx":8,"fontSize":8.5,"color":"#333333"},"encoding":{"x":{"field":"tx","type":"nominal","title":null},"y":{"field":"ty","type":"quantitative","title":"MX1 relative expression"}}}]},
{"data":{"values":[{"s":"epirubicin"}]},"mark":{"type":"text","align":"left","fontSize":8},"encoding":{"x":{"value":-55},"y":{"value":-14},"text":{"field":"s"}}},
{"data":{"values":[{"s":"IFN block"}]},"mark":{"type":"text","align":"left","fontSize":8},"encoding":{"x":{"value":-50},"y":{"value":103},"text":{"field":"s"}}}
]},
{"width":118,"height":95,"data":{"values":[
{"i":"1","t":"–","b":"–","g":"w","v":4.2,"lo":3.2,"hi":5.3},
{"i":"2","t":"+","b":"–","g":"w","v":6.7,"lo":3.4,"hi":10},
{"i":"3","t":"–","b":"+","g":"w","v":2.8,"lo":2.5,"hi":3.1},
{"i":"4","t":"+","b":"+","g":"w","v":2,"lo":1.8,"hi":2.2},
{"i":"5","t":"–","b":"–","g":"k","v":19.7,"lo":15.7,"hi":23.7},
{"i":"6","t":"+","b":"–","g":"k","v":16,"lo":13.7,"hi":18.3},
{"i":"7","t":"–","b":"+","g":"k","v":19.3,"lo":13,"hi":25.6},
{"i":"8","t":"+","b":"+","g":"k","v":19,"lo":12.6,"hi":25.4}]},
"encoding":{"x":{"field":"i","type":"nominal","title":null,"scale":{"paddingInner":0.2,"paddingOuter":0.25,"align":0.6}}},
"layer":[
{"mark":{"type":"bar","strokeWidth":0.9},"encoding":{"y":{"field":"v","type":"quantitative","title":"MX1 relative expression","scale":{"domain":[0,30],"nice":false},"axis":{"values":[0,10,20,30],"labelOverlap":false,"tickCount":20}},"fill":{"field":"g","type":"nominal","scale":{"domain":["w","k","d"],"range":["#ffffff","#1b1b1b","#474747"]},"legend":null},"stroke":{"field":"g","type":"nominal","scale":{"domain":["w","k","d"],"range":["#5e5e5e","#1b1b1b","#474747"]},"legend":null}}},
{"transform":[{"filter":"datum.g=='k'"}],"mark":"rule","encoding":{"y":{"field":"v","type":"quantitative","title":"MX1 relative expression"},"y2":{"field":"hi"}}},
{"transform":[{"filter":"datum.g=='k'"}],"mark":{"type":"tick","size":8},"encoding":{"y":{"field":"hi","type":"quantitative","title":"MX1 relative expression"}}},
{"transform":[{"filter":"datum.g!='k'"}],"mark":"rule","encoding":{"y":{"field":"lo","type":"quantitative","title":"MX1 relative expression"},"y2":{"field":"hi"}}},
{"transform":[{"filter":"datum.g!='k'"}],"mark":{"type":"tick","size":8},"encoding":{"y":{"field":"lo","type":"quantitative","title":"MX1 relative expression"}}},
{"transform":[{"filter":"datum.g!='k'"}],"mark":{"type":"tick","size":8},"encoding":{"y":{"field":"hi","type":"quantitative","title":"MX1 relative expression"}}},
{"mark":"text","encoding":{"y":{"value":-15},"text":{"field":"t"}}},
{"mark":"text","encoding":{"y":{"value":99.5},"text":{"field":"b"}}},
{"data":{"values":[{"a":"1","z":"4","m":"2","s":"0% CAFs"},{"a":"5","z":"8","m":"6","s":"20% CAFs"}]},"layer":[
{"mark":"rule","encoding":{"x":{"field":"a","type":"nominal","bandPosition":0,"title":null},"x2":{"field":"z","bandPosition":1},"y":{"value":-23}}},
{"mark":{"type":"text","fontSize":8.5},"encoding":{"x":{"field":"m","type":"nominal","bandPosition":1.12,"title":null},"y":{"value":-29},"text":{"field":"s"}}}]},
{"data":{"values":[{"a":"1","z":"8","m":"4","s":"Type II"}]},"layer":[
{"mark":"rule","encoding":{"x":{"field":"a","type":"nominal","bandPosition":0,"title":null},"x2":{"field":"z","bandPosition":1},"y":{"value":105}}},
{"mark":{"type":"text","fontSize":8.5},"encoding":{"x":{"field":"m","type":"nominal","bandPosition":1.12,"title":null},"y":{"value":117},"text":{"field":"s"}}}]},
{"data":{"values":[{"x1":"6","y1":28.7,"x2":"8","y2":28.7,"tx":"7","ty":31.3}]},"layer":[
{"mark":{"type":"rule","color":"#333333","strokeWidth":0.8},"encoding":{"x":{"field":"x1","type":"nominal","title":null},"x2":{"field":"x2"},"y":{"field":"y1","type":"quantitative","title":"MX1 relative expression"},"y2":{"field":"y2"}}},
{"mark":{"type":"point","shape":"M0,-1L0,1","size":25,"filled":false,"color":"#333333","strokeWidth":0.9,"opacity":1},"encoding":{"x":{"field":"x1","type":"nominal","title":null},"y":{"field":"y1","type":"quantitative","title":"MX1 relative expression"}}},
{"mark":{"type":"point","shape":"M0,-1L0,1","size":25,"filled":false,"color":"#333333","strokeWidth":0.9,"opacity":1},"encoding":{"x":{"field":"x2","type":"nominal","title":null},"y":{"field":"y2","type":"quantitative","title":"MX1 relative expression"}}},
{"mark":{"type":"text","text":"ns","align":"center","fontSize":8.5,"color":"#333333"},"encoding":{"x":{"field":"tx","type":"nominal","title":null},"y":{"field":"ty","type":"quantitative","title":"MX1 relative expression"}}}]}
]}
]}
]},
{"spacing":34,"hconcat":[
{"width":1,"height":95,"data":{"values":[{"s":"c"}]},"mark":{"type":"text","align":"left","fontSize":12,"fontWeight":"bold","color":"#222222"},"encoding":{"x":{"value":-26},"y":{"value":-43},"text":{"field":"s"}}},
{"spacing":19,"hconcat":[
{"spacing":16,"hconcat":[
{"width":122,"height":95,"data":{"values":[
{"i":"1","t":"–","b":"–","g":"w","v":90,"lo":86,"hi":94},
{"i":"2","t":"+","b":"–","g":"w","v":26,"lo":23,"hi":29},
{"i":"3","t":"–","b":"+","g":"w","v":121,"lo":119,"hi":123},
{"i":"4","t":"+","b":"+","g":"w","v":29,"lo":25,"hi":33},
{"i":"5","t":"–","b":"–","g":"k","v":120,"lo":108,"hi":132},
{"i":"6","t":"+","b":"–","g":"k","v":48,"lo":47,"hi":49},
{"i":"7","t":"–","b":"+","g":"k","v":101,"lo":92,"hi":110},
{"i":"8","t":"+","b":"+","g":"k","v":25,"lo":23,"hi":27}]},
"encoding":{"x":{"field":"i","type":"nominal","title":null,"scale":{"paddingInner":0.25,"paddingOuter":0.35,"align":0.7}}},
"layer":[
{"mark":{"type":"bar","strokeWidth":0.9},"encoding":{"y":{"field":"v","type":"quantitative","title":"Number of colonies","scale":{"domain":[0,150],"nice":false},"axis":{"values":[0,50,100,150],"labelOverlap":false,"tickCount":20}},"fill":{"field":"g","type":"nominal","scale":{"domain":["w","k","d"],"range":["#ffffff","#1b1b1b","#474747"]},"legend":null},"stroke":{"field":"g","type":"nominal","scale":{"domain":["w","k","d"],"range":["#5e5e5e","#1b1b1b","#474747"]},"legend":null}}},
{"transform":[{"filter":"datum.g=='k'"}],"mark":"rule","encoding":{"y":{"field":"v","type":"quantitative","title":"Number of colonies"},"y2":{"field":"hi"}}},
{"transform":[{"filter":"datum.g=='k'"}],"mark":{"type":"tick","size":8},"encoding":{"y":{"field":"hi","type":"quantitative","title":"Number of colonies"}}},
{"transform":[{"filter":"datum.g!='k'"}],"mark":"rule","encoding":{"y":{"field":"lo","type":"quantitative","title":"Number of colonies"},"y2":{"field":"hi"}}},
{"transform":[{"filter":"datum.g!='k'"}],"mark":{"type":"tick","size":8},"encoding":{"y":{"field":"lo","type":"quantitative","title":"Number of colonies"}}},
{"transform":[{"filter":"datum.g!='k'"}],"mark":{"type":"tick","size":8},"encoding":{"y":{"field":"hi","type":"quantitative","title":"Number of colonies"}}},
{"mark":"text","encoding":{"y":{"value":-13},"text":{"field":"t"}}},
{"mark":"text","encoding":{"y":{"value":101},"text":{"field":"b"}}},
{"data":{"values":[{"a":"1","z":"4","m":"2","s":"0% CAFs"},{"a":"5","z":"8","m":"6","s":"20% pCAFs"}]},"layer":[
{"mark":"rule","encoding":{"x":{"field":"a","type":"nominal","bandPosition":0,"title":null},"x2":{"field":"z","bandPosition":1},"y":{"value":-21}}},
{"mark":{"type":"text","fontSize":8.5},"encoding":{"x":{"field":"m","type":"nominal","bandPosition":1.17,"title":null},"y":{"value":-28},"text":{"field":"s"}}}]},
{"data":{"values":[{"a":"1","z":"8","m":"4","s":"Type I"}]},"layer":[
{"mark":"rule","encoding":{"x":{"field":"a","type":"nominal","bandPosition":0,"title":null},"x2":{"field":"z","bandPosition":1},"y":{"value":107}}},
{"mark":{"type":"text","fontSize":8.5},"encoding":{"x":{"field":"m","type":"nominal","bandPosition":1.17,"title":null},"y":{"value":115},"text":{"field":"s"}}}]},
{"data":{"values":[{"s":"231 cells"}]},"mark":{"type":"text","align":"left","fontSize":11,"color":"#222222"},"encoding":{"x":{"value":-43},"y":{"value":-41},"text":{"field":"s"}}}
]},
{"width":120,"height":95,"data":{"values":[
{"i":"1","t":"+","b":"–","g":"w","v":0.295,"lo":0.255,"hi":0.335},
{"i":"2","t":"+","b":"+","g":"w","v":0.24,"lo":0.215,"hi":0.265},
{"i":"3","t":"+","b":"–","g":"k","v":0.41,"lo":0.37,"hi":0.45},
{"i":"4","t":"+","b":"+","g":"k","v":0.25,"lo":0.24,"hi":0.26}]},
"encoding":{"x":{"field":"i","type":"nominal","title":null,"scale":{"paddingInner":0.32,"paddingOuter":0.3,"align":0.7}}},
"layer":[
{"mark":{"type":"bar","strokeWidth":0.9},"encoding":{"y":{"field":"v","type":"quantitative","title":"Relative survival","scale":{"domain":[0,0.5],"nice":false},"axis":{"values":[0,0.1,0.2,0.3,0.4,0.5],"format":".1f","labelOverlap":false,"tickCount":20}},"fill":{"field":"g","type":"nominal","scale":{"domain":["w","k","d"],"range":["#ffffff","#1b1b1b","#474747"]},"legend":null},"stroke":{"field":"g","type":"nominal","scale":{"domain":["w","k","d"],"range":["#5e5e5e","#1b1b1b","#474747"]},"legend":null}}},
{"transform":[{"filter":"datum.g=='k'"}],"mark":"rule","encoding":{"y":{"field":"v","type":"quantitative","title":"Relative survival"},"y2":{"field":"hi"}}},
{"transform":[{"filter":"datum.g=='k'"}],"mark":{"type":"tick","size":13},"encoding":{"y":{"field":"hi","type":"quantitative","title":"Relative survival"}}},
{"transform":[{"filter":"datum.g!='k'"}],"mark":"rule","encoding":{"y":{"field":"lo","type":"quantitative","title":"Relative survival"},"y2":{"field":"hi"}}},
{"transform":[{"filter":"datum.g!='k'"}],"mark":{"type":"tick","size":13},"encoding":{"y":{"field":"lo","type":"quantitative","title":"Relative survival"}}},
{"transform":[{"filter":"datum.g!='k'"}],"mark":{"type":"tick","size":13},"encoding":{"y":{"field":"hi","type":"quantitative","title":"Relative survival"}}},
{"mark":"text","encoding":{"y":{"value":-13},"text":{"field":"t"}}},
{"mark":"text","encoding":{"y":{"value":101},"text":{"field":"b"}}},
{"data":{"values":[{"a":"1","z":"2","m":"1","s":"0% CAFs"},{"a":"3","z":"4","m":"3","s":"20% pCAFs"}]},"layer":[
{"mark":"rule","encoding":{"x":{"field":"a","type":"nominal","bandPosition":0,"title":null},"x2":{"field":"z","bandPosition":1},"y":{"value":-21}}},
{"mark":{"type":"text","fontSize":8.5},"encoding":{"x":{"field":"m","type":"nominal","bandPosition":1.24,"title":null},"y":{"value":-28},"text":{"field":"s"}}}]},
{"data":{"values":[{"a":"1","z":"4","m":"2","s":"Type I"}]},"layer":[
{"mark":"rule","encoding":{"x":{"field":"a","type":"nominal","bandPosition":0,"title":null},"x2":{"field":"z","bandPosition":1},"y":{"value":107}}},
{"mark":{"type":"text","fontSize":8.5},"encoding":{"x":{"field":"m","type":"nominal","bandPosition":1.24,"title":null},"y":{"value":115},"text":{"field":"s"}}}]},
{"data":{"values":[{"x1":"3","y1":0.526,"x2":"4","y2":0.426,"tx":"4","ty":0.516}]},"layer":[
{"mark":{"type":"rule","color":"#333333","strokeWidth":0.8},"encoding":{"x":{"field":"x1","type":"nominal","title":null},"x2":{"field":"x2"},"y":{"field":"y1","type":"quantitative","title":"Relative survival"},"y2":{"field":"y2"}}},
{"mark":{"type":"text","text":"p","fontStyle":"italic","align":"right","dx":-1,"fontSize":8.5,"color":"#333333"},"encoding":{"x":{"field":"tx","type":"nominal","title":null},"y":{"field":"ty","type":"quantitative","title":"Relative survival"}}},
{"mark":{"type":"text","text":"<0.05","align":"left","dx":-1,"fontSize":8.5,"color":"#333333"},"encoding":{"x":{"field":"tx","type":"nominal","title":null},"y":{"field":"ty","type":"quantitative","title":"Relative survival"}}}]},
{"data":{"values":[{"s":"epirubicin"}]},"mark":{"type":"text","align":"left","fontSize":8},"encoding":{"x":{"value":-42},"y":{"value":-13},"text":{"field":"s"}}}
]}
]},
{"width":118,"height":95,"data":{"values":[
{"i":"1","t":"–","b":"–","g":"w","v":0.8,"lo":0.5,"hi":1.1},
{"i":"2","t":"+","b":"–","g":"w","v":0.5,"lo":0.3,"hi":0.7},
{"i":"3","t":"–","b":"+","g":"w","v":0.3,"lo":0.2,"hi":0.4},
{"i":"4","t":"+","b":"+","g":"w","v":0.3,"lo":0.2,"hi":0.4},
{"i":"5","t":"–","b":"–","g":"k","v":50,"lo":38,"hi":62},
{"i":"6","t":"+","b":"–","g":"k","v":30.5,"lo":24,"hi":37},
{"i":"7","t":"–","b":"+","g":"k","v":19,"lo":12.5,"hi":25.5},
{"i":"8","t":"+","b":"+","g":"k","v":13,"lo":8,"hi":18}]},
"encoding":{"x":{"field":"i","type":"nominal","title":null,"scale":{"paddingInner":0.25,"paddingOuter":0.32,"align":0.78}}},
"layer":[
{"mark":{"type":"bar","strokeWidth":0.9},"encoding":{"y":{"field":"v","type":"quantitative","title":"MX1 relative expression","scale":{"domain":[0,80],"nice":false},"axis":{"values":[0,20,40,60,80],"labelOverlap":false,"tickCount":20}},"fill":{"field":"g","type":"nominal","scale":{"domain":["w","k","d"],"range":["#ffffff","#1b1b1b","#474747"]},"legend":null},"stroke":{"field":"g","type":"nominal","scale":{"domain":["w","k","d"],"range":["#5e5e5e","#1b1b1b","#474747"]},"legend":null}}},
{"transform":[{"filter":"datum.g=='k'"}],"mark":"rule","encoding":{"y":{"field":"v","type":"quantitative","title":"MX1 relative expression"},"y2":{"field":"hi"}}},
{"transform":[{"filter":"datum.g=='k'"}],"mark":{"type":"tick","size":8},"encoding":{"y":{"field":"hi","type":"quantitative","title":"MX1 relative expression"}}},
{"mark":"text","encoding":{"y":{"value":-13},"text":{"field":"t"}}},
{"mark":"text","encoding":{"y":{"value":101},"text":{"field":"b"}}},
{"data":{"values":[{"a":"1","z":"4","m":"2","s":"0% CAFs"},{"a":"5","z":"8","m":"6","s":"20% pCAFs"}]},"layer":[
{"mark":"rule","encoding":{"x":{"field":"a","type":"nominal","bandPosition":0,"title":null},"x2":{"field":"z","bandPosition":1},"y":{"value":-21}}},
{"mark":{"type":"text","fontSize":8.5},"encoding":{"x":{"field":"m","type":"nominal","bandPosition":1.17,"title":null},"y":{"value":-28},"text":{"field":"s"}}}]},
{"data":{"values":[{"a":"1","z":"8","m":"4","s":"Type I"}]},"layer":[
{"mark":"rule","encoding":{"x":{"field":"a","type":"nominal","bandPosition":0,"title":null},"x2":{"field":"z","bandPosition":1},"y":{"value":107}}},
{"mark":{"type":"text","fontSize":8.5},"encoding":{"x":{"field":"m","type":"nominal","bandPosition":1.17,"title":null},"y":{"value":115},"text":{"field":"s"}}}]},
{"data":{"values":[{"x1":"6","y1":48.8,"x2":"8","y2":38.7,"tx":"6","ty":52.2}]},"layer":[
{"mark":{"type":"rule","color":"#333333","strokeWidth":0.8},"encoding":{"x":{"field":"x1","type":"nominal","title":null},"x2":{"field":"x2"},"y":{"field":"y1","type":"quantitative","title":"MX1 relative expression"},"y2":{"field":"y2"}}},
{"mark":{"type":"point","shape":"M0,-1L0,1","size":25,"filled":false,"color":"#333333","strokeWidth":0.9,"opacity":1},"encoding":{"x":{"field":"x1","type":"nominal","title":null},"y":{"field":"y1","type":"quantitative","title":"MX1 relative expression"}}},
{"mark":{"type":"point","shape":"M0,-1L0,1","size":25,"filled":false,"color":"#333333","strokeWidth":0.9,"opacity":1},"encoding":{"x":{"field":"x2","type":"nominal","title":null},"y":{"field":"y2","type":"quantitative","title":"MX1 relative expression"}}},
{"mark":{"type":"text","text":"p","fontStyle":"italic","align":"right","dx":16,"fontSize":8.5,"color":"#333333"},"encoding":{"x":{"field":"tx","type":"nominal","title":null},"y":{"field":"ty","type":"quantitative","title":"MX1 relative expression"}}},
{"mark":{"type":"text","text":"<0.05","align":"left","dx":16,"fontSize":8.5,"color":"#333333"},"encoding":{"x":{"field":"tx","type":"nominal","title":null},"y":{"field":"ty","type":"quantitative","title":"MX1 relative expression"}}}]},
{"data":{"values":[{"s":"epirubicin"}]},"mark":{"type":"text","align":"left","fontSize":8},"encoding":{"x":{"value":-52},"y":{"value":-13},"text":{"field":"s"}}}
]}
]}
]}
]}
]
}
